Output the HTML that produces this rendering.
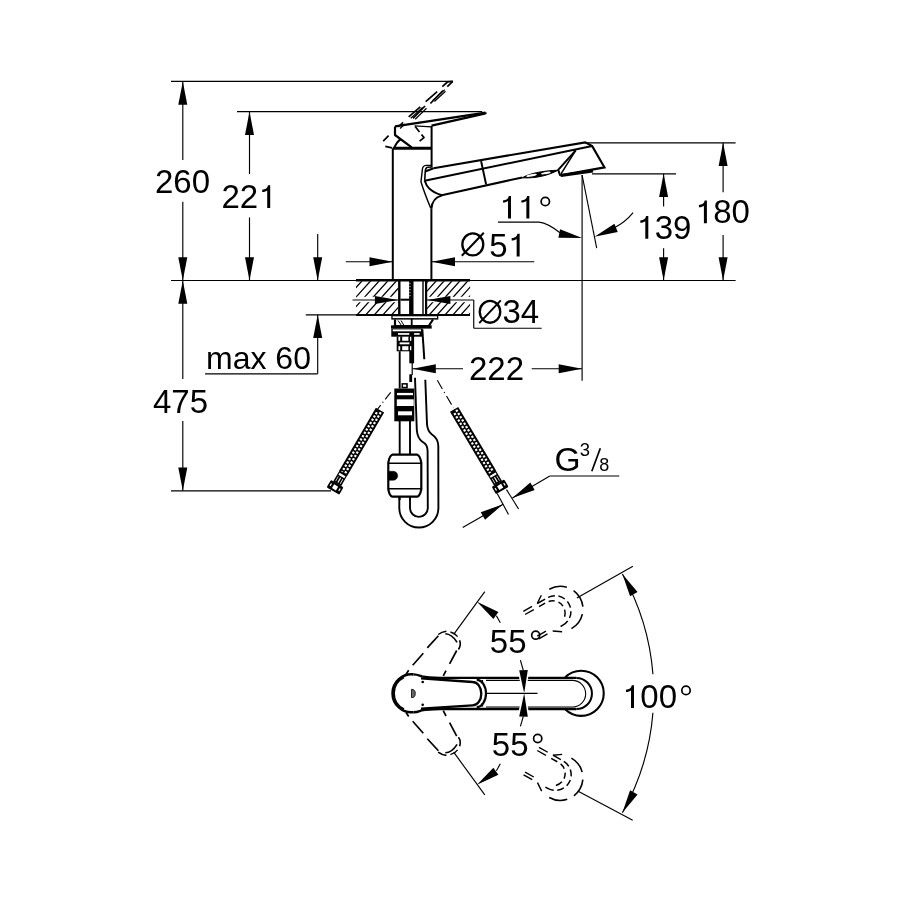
<!DOCTYPE html>
<html><head><meta charset="utf-8"><style>
html,body{margin:0;padding:0;background:#fff;}
svg{display:block;will-change:transform;}
text{font-family:"Liberation Sans",sans-serif;fill:#000;stroke:none;}
</style></head><body>
<svg width="900" height="900" viewBox="0 0 900 900" stroke="#000" stroke-linecap="butt" stroke-linejoin="round">
<rect x="0" y="0" width="900" height="900" fill="#fff" stroke="none"/>
<line x1="171" y1="81.4" x2="452.8" y2="81.4" stroke-width="1.15" />
<line x1="237" y1="111.6" x2="482.2" y2="111.6" stroke-width="1.15" />
<line x1="171" y1="280.5" x2="356" y2="280.5" stroke-width="1.15" />
<line x1="470" y1="280.5" x2="735.6" y2="280.5" stroke-width="1.15" />
<line x1="586.7" y1="142.8" x2="735.6" y2="142.8" stroke-width="1.15" />
<line x1="592" y1="173.8" x2="676" y2="173.8" stroke-width="1.15" />
<line x1="171" y1="490.8" x2="331" y2="490.8" stroke-width="1.15" />
<line x1="305.8" y1="314.8" x2="356" y2="314.8" stroke-width="1.15" />
<line x1="182.8" y1="81.4" x2="182.8" y2="160" stroke-width="1.15" />
<line x1="182.8" y1="201.7" x2="182.8" y2="280.5" stroke-width="1.15" />
<polygon points="182.8,81.4 178.3,104.7 187.3,104.7" fill="#000" stroke="none" />
<polygon points="182.8,280.5 187.3,257.2 178.3,257.2" fill="#000" stroke="none" />
<text x="155" y="193" font-size="33">2</text>
<text x="173.35" y="193" font-size="33">6</text>
<text x="191.71" y="193" font-size="33">0</text>
<line x1="182.8" y1="280.5" x2="182.8" y2="378.9" stroke-width="1.15" />
<line x1="182.8" y1="421.1" x2="182.8" y2="490.8" stroke-width="1.15" />
<polygon points="182.8,280.5 178.3,303.8 187.3,303.8" fill="#000" stroke="none" />
<polygon points="182.8,490.8 187.3,467.5 178.3,467.5" fill="#000" stroke="none" />
<text x="153" y="413.3" font-size="33">4</text>
<text x="171.35" y="413.3" font-size="33">7</text>
<text x="189.71" y="413.3" font-size="33">5</text>
<line x1="249.5" y1="111.6" x2="249.5" y2="174" stroke-width="1.15" />
<line x1="249.5" y1="217.5" x2="249.5" y2="280.5" stroke-width="1.15" />
<polygon points="249.5,111.6 245,134.9 254,134.9" fill="#000" stroke="none" />
<polygon points="249.5,280.5 254,257.2 245,257.2" fill="#000" stroke="none" />
<text x="221.5" y="208" font-size="33">2</text>
<text x="239.85" y="208" font-size="33">2</text>
<path d="M267.21,208 h3 v-22.7 h-2.2 c-0.6,2.9 -2.4,4.3 -5.8,4.5 v2.2 c2.4,0 4,-0.6 5,-1.5 z" fill="#000" stroke="none"/>
<line x1="317.7" y1="234" x2="317.7" y2="280.5" stroke-width="1.15" />
<polygon points="317.7,280.5 322.2,257.2 313.2,257.2" fill="#000" stroke="none" />
<line x1="317.7" y1="314.8" x2="317.7" y2="373.8" stroke-width="1.15" />
<line x1="317.7" y1="373.8" x2="205.1" y2="373.8" stroke-width="1.15" />
<polygon points="317.7,314.8 313.2,338.1 322.2,338.1" fill="#000" stroke="none" />
<text x="206" y="368.9" font-size="32">max 60</text>
<line x1="663.6" y1="173.8" x2="663.6" y2="206.4" stroke-width="1.15" />
<line x1="663.6" y1="248.2" x2="663.6" y2="280.5" stroke-width="1.15" />
<polygon points="663.6,173.8 659.1,197.1 668.1,197.1" fill="#000" stroke="none" />
<polygon points="663.6,280.5 668.1,257.2 659.1,257.2" fill="#000" stroke="none" />
<path d="M645.3,238.8 h3 v-22.7 h-2.2 c-0.6,2.9 -2.4,4.3 -5.8,4.5 v2.2 c2.4,0 4,-0.6 5,-1.5 z" fill="#000" stroke="none"/>
<text x="654.65" y="238.8" font-size="33">3</text>
<text x="673.01" y="238.8" font-size="33">9</text>
<line x1="723.1" y1="142.8" x2="723.1" y2="192.2" stroke-width="1.15" />
<line x1="723.1" y1="234.9" x2="723.1" y2="280.5" stroke-width="1.15" />
<polygon points="723.1,142.8 718.6,166.1 727.6,166.1" fill="#000" stroke="none" />
<polygon points="723.1,280.5 727.6,257.2 718.6,257.2" fill="#000" stroke="none" />
<path d="M703.9,223.3 h3 v-22.7 h-2.2 c-0.6,2.9 -2.4,4.3 -5.8,4.5 v2.2 c2.4,0 4,-0.6 5,-1.5 z" fill="#000" stroke="none"/>
<text x="713.25" y="223.3" font-size="33">8</text>
<text x="731.61" y="223.3" font-size="33">0</text>
<line x1="345.8" y1="261.7" x2="392.8" y2="261.7" stroke-width="1.15" />
<polygon points="392.8,261.7 369.5,257.2 369.5,266.2" fill="#000" stroke="none" />
<line x1="431.7" y1="261.7" x2="534.3" y2="261.7" stroke-width="1.15" />
<polygon points="431.7,261.7 455,266.2 455,257.2" fill="#000" stroke="none" />
<ellipse cx="472.8" cy="244.4" rx="10.45" ry="11.05" fill="none" stroke-width="2.3"/>
<line x1="461.8" y1="255.8" x2="483.8" y2="232.8" stroke-width="2.0" />
<text x="489.3" y="256.5" font-size="33">5</text>
<path d="M516.65,256.5 h3 v-22.7 h-2.2 c-0.6,2.9 -2.4,4.3 -5.8,4.5 v2.2 c2.4,0 4,-0.6 5,-1.5 z" fill="#000" stroke="none"/>
<ellipse cx="490" cy="311.85" rx="10.25" ry="10.9" fill="none" stroke-width="2.3"/>
<line x1="479.2" y1="323.1" x2="500.8" y2="300.4" stroke-width="2.0" />
<text x="502.4" y="323.4" font-size="33">3</text>
<text x="520.75" y="323.4" font-size="33">4</text>
<line x1="473.75" y1="300" x2="473.75" y2="328.2" stroke-width="1.15" />
<line x1="473.75" y1="328.2" x2="541.7" y2="328.2" stroke-width="1.15" />
<line x1="412.5" y1="368.7" x2="463" y2="368.7" stroke-width="1.15" />
<polygon points="412.5,368.7 435.8,373.2 435.8,364.2" fill="#000" stroke="none" />
<line x1="531.7" y1="368.7" x2="582" y2="368.7" stroke-width="1.15" />
<polygon points="582,368.7 558.7,364.2 558.7,373.2" fill="#000" stroke="none" />
<text x="469" y="380.3" font-size="33">2</text>
<text x="487.35" y="380.3" font-size="33">2</text>
<text x="505.71" y="380.3" font-size="33">2</text>
<line x1="582.1" y1="175" x2="582.1" y2="380.8" stroke-width="1.15" />
<line x1="582.1" y1="175" x2="596.7" y2="248.2" stroke-width="1.15" />
<path d="M498,222.1 L539,222.1 Q548,223 561,233.5" fill="none" stroke-width="1.15" />
<polygon points="582.1,238.1 560.12,229.2 558.39,237.83" fill="#000" stroke="none" />
<path d="M633.1,212.7 C628,219 622,224 614,228" fill="none" stroke-width="1.15" />
<polygon points="594.5,236.7 617.74,231.99 614.42,223.84" fill="#000" stroke="none" />
<path d="M508,218.6 h3 v-22.7 h-2.2 c-0.6,2.9 -2.4,4.3 -5.8,4.5 v2.2 c2.4,0 4,-0.6 5,-1.5 z" fill="#000" stroke="none"/>
<path d="M526.35,218.6 h3 v-22.7 h-2.2 c-0.6,2.9 -2.4,4.3 -5.8,4.5 v2.2 c2.4,0 4,-0.6 5,-1.5 z" fill="#000" stroke="none"/>
<circle cx="545.3" cy="201.5" r="4.2" fill="none" stroke-width="1.7"/>
<text x="554.5" y="471.3" font-size="33.5">G</text>
<text x="579.8" y="456.2" font-size="18.5">3</text>
<text x="599.2" y="470.9" font-size="18">8</text>
<line x1="591.8" y1="471.3" x2="600.3" y2="448.3" stroke-width="1.7" />
<line x1="550" y1="476" x2="619.3" y2="476" stroke-width="1.15" />
<line x1="549.8" y1="476" x2="512.4" y2="498.1" stroke-width="1.15" />
<polygon points="512.4,498.1 534.66,489.98 530.29,482.57" fill="#000" stroke="none" />
<line x1="462.7" y1="527.6" x2="503.1" y2="504.3" stroke-width="1.15" />
<polygon points="503.1,504.3 480.75,512.17 485.04,519.63" fill="#000" stroke="none" />
<line x1="497.2" y1="493.6" x2="508.5" y2="514.4" stroke-width="1.15" />
<line x1="506.5" y1="489.6" x2="518.6" y2="509" stroke-width="1.15" />
<line x1="392.8" y1="148.3" x2="392.8" y2="280.5" stroke-width="2.0" />
<line x1="431.6" y1="125.8" x2="431.6" y2="167.5" stroke-width="2.0" />
<line x1="431.4" y1="208.5" x2="431.4" y2="280.5" stroke-width="2.0" />
<line x1="392.8" y1="148.3" x2="431.6" y2="148.3" stroke-width="3.0" />
<path d="M395,126.4 L485.6,112.6" fill="none" stroke-width="2.2" />
<path d="M431.6,125.7 L485.6,113.4" fill="none" stroke-width="2.4" />
<path d="M485.6,112.6 L485.6,113.6" fill="none" stroke-width="2.8" />
<path d="M414.5,125.8 L431.6,126.9" fill="none" stroke-width="1.2" />
<path d="M395,126.4 L395,135 L411.7,147.3" fill="none" stroke-width="2.2" />
<path d="M394.3,148 Q396.5,142 400.6,139.4" fill="none" stroke-width="2.0" />
<line x1="408.7" y1="116.9" x2="420.3" y2="106.8" stroke-width="1.7" />
<line x1="425.7" y1="101.7" x2="437.2" y2="91.6" stroke-width="1.7" />
<line x1="442.3" y1="86.6" x2="447.5" y2="82" stroke-width="1.7" />
<line x1="413" y1="118.3" x2="425" y2="106" stroke-width="1.7" />
<line x1="430.4" y1="103.5" x2="443" y2="90.5" stroke-width="1.7" />
<line x1="447.3" y1="86.6" x2="452.8" y2="81.4" stroke-width="1.7" />
<line x1="447.5" y1="81.8" x2="452.8" y2="81.4" stroke-width="1.7" />
<line x1="410.8" y1="118.2" x2="422.6" y2="107.4" stroke-width="1.2" />
<line x1="432.6" y1="100.8" x2="444.8" y2="89.6" stroke-width="1.2" />
<line x1="415.2" y1="119.2" x2="426.5" y2="108.2" stroke-width="1.2" />
<line x1="434.4" y1="101.5" x2="445.5" y2="91.2" stroke-width="1.2" />
<line x1="398.2" y1="126.9" x2="403.1" y2="122.4" stroke-width="1.5" />
<line x1="400" y1="128.5" x2="405" y2="124" stroke-width="1.2" />
<path d="M388.6,135.7 L383.2,141.2 M385.3,146.4 L392,147.8" fill="none" stroke-width="1.7" />
<path d="M415.2,126.4 L419.5,132 M421.5,134.5 L424,137.6 L419.6,141.2" fill="none" stroke-width="1.7" />
<path d="M431.6,165.4 L426,165.4 Q422.6,165.6 422.3,170 L421,181.7 Q424,192 430.8,208.3" fill="none" stroke-width="1.4" />
<path d="M431.6,167 L427.5,167.2 Q425.5,167.6 425.3,171 L424.7,180.7" fill="none" stroke-width="1.6" />
<path d="M433.5,168.2 L585.2,142.4 L592.2,146.1 L604.5,167.4 L560.2,175.4" fill="none" stroke-width="2.1" stroke-linejoin="miter"/>
<path d="M425.8,171.2 L433.5,168.3" fill="none" stroke-width="2.0" />
<path d="M424.7,180.7 L592.2,146.1" fill="none" stroke-width="2.0" />
<path d="M424.7,180.7 C426.5,186 429,191 441.7,195.3 L522.3,177.4" fill="none" stroke-width="2.0" />
<path d="M431.4,208.6 C432,201 436,197 441.7,195.6" fill="none" stroke-width="2.0" />
<path d="M481.1,161.1 L486.1,184.4" fill="none" stroke-width="2.0" />
<path d="M522.3,177.8 C529,173.5 542,170.8 558,170.2 C549,175.2 536,178.6 522.3,177.8 Z" fill="#000" stroke-width="1.0" />
<ellipse cx="531.5" cy="175.4" rx="5.4" ry="1.15" transform="rotate(-10 531.5 175.4)" fill="#fff" stroke="none"/>
<ellipse cx="545.8" cy="173.0" rx="4.9" ry="1.1" transform="rotate(-10 545.8 173)" fill="#fff" stroke="none"/>
<path d="M560.2,175.6 L558.2,169.9 L575.7,150.3" fill="none" stroke-width="2.0" />
<path d="M575.7,150.3 L561.0,173.9" fill="none" stroke-width="1.5" />
<path d="M561,175.5 L593,171.1" fill="none" stroke-width="3.0" />
<clipPath id="hl"><rect x="356" y="281.2" width="42.2" height="32.8"/></clipPath>
<clipPath id="hr"><rect x="427.1" y="281.2" width="43" height="32.8"/></clipPath>
<g clip-path="url(#hl)">
<path d="M322.8,314.8 L353.8,280.5 M331.4,314.8 L362.4,280.5 M340,314.8 L371,280.5 M348.6,314.8 L379.6,280.5 M357.2,314.8 L388.2,280.5 M365.8,314.8 L396.8,280.5 M374.4,314.8 L405.4,280.5 M383,314.8 L414,280.5 M391.6,314.8 L422.6,280.5 M400.2,314.8 L431.2,280.5" fill="none" stroke-width="1.3" />
</g>
<g clip-path="url(#hr)">
<path d="M397.7,314.8 L428.7,280.5 M405.6,314.8 L436.6,280.5 M413.5,314.8 L444.5,280.5 M421.4,314.8 L452.4,280.5 M429.3,314.8 L460.3,280.5 M437.2,314.8 L468.2,280.5 M445.1,314.8 L476.1,280.5 M453,314.8 L484,280.5 M460.9,314.8 L491.9,280.5 M468.8,314.8 L499.8,280.5 M476.7,314.8 L507.7,280.5" fill="none" stroke-width="1.3" />
</g>
<rect x="356.5" y="296.8" width="41.7" height="5.4" fill="#fff" stroke="none"/>
<rect x="427.1" y="296.8" width="43" height="5.4" fill="#fff" stroke="none"/>
<line x1="356" y1="280.15" x2="470" y2="280.15" stroke-width="2.5" />
<line x1="356" y1="314.9" x2="470" y2="314.9" stroke-width="2.0" />
<line x1="352.5" y1="300" x2="398.2" y2="300" stroke-width="1.15" />
<polygon points="398.2,300 374.9,295.9 374.9,304.1" fill="#000" stroke="none" />
<line x1="427.1" y1="300" x2="473.75" y2="300" stroke-width="1.15" />
<polygon points="427.1,300 450.4,304.1 450.4,295.9" fill="#000" stroke="none" />
<line x1="399.3" y1="280" x2="399.3" y2="315" stroke-width="2.4" />
<line x1="400.5" y1="299.7" x2="409.2" y2="299.7" stroke-width="2.0" />
<rect x="409.1" y="280" width="4.4" height="35" fill="#000" stroke="none"/>
<line x1="410" y1="283" x2="410" y2="298" stroke-width="0.8" stroke="#fff" stroke-dasharray="1.2,1.8"/>
<rect x="422.3" y="280" width="1.4" height="35" fill="#000" stroke="none"/>
<line x1="426.1" y1="280" x2="426.1" y2="315" stroke-width="2.2" />
<rect x="391.3" y="314.8" width="47" height="4.8" fill="#000" stroke="none"/>
<rect x="392.6" y="316.3" width="44.4" height="1.8" fill="#fff" stroke="none"/>
<path d="M395,319.5 L395,326 L428.7,326 L433,319.5" fill="none" stroke-width="2.2" />
<line x1="411.7" y1="319" x2="411.7" y2="326" stroke-width="1.8" />
<path d="M398,320.5 L401.5,325.5 M401,320.5 L404,325.5" fill="none" stroke-width="1.0" />
<rect x="391" y="325.3" width="40.7" height="3.3" fill="#000" stroke="none"/>
<rect x="391.3" y="328.5" width="31.2" height="8.2" fill="#000" stroke="none"/>
<rect x="392.7" y="329.4" width="28.3" height="1.9" fill="#fff" stroke="none"/>
<rect x="398" y="333.1" width="21.6" height="1.7" fill="#fff" stroke="none"/>
<rect x="396.7" y="336.5" width="16" height="14.8" fill="#000" stroke="none"/>
<rect x="409.3" y="333" width="4.8" height="30.3" fill="#000" stroke="none"/>
<rect x="398.4" y="336.8" width="1.8" height="4" fill="#fff" stroke="none"/>
<rect x="402.2" y="336.8" width="6.2" height="4" fill="#fff" stroke="none"/>
<rect x="410" y="336.8" width="1.3" height="4" fill="#fff" stroke="none"/>
<rect x="398.4" y="346.2" width="1.8" height="4" fill="#fff" stroke="none"/>
<rect x="402.2" y="346.2" width="6.2" height="4" fill="#fff" stroke="none"/>
<rect x="410" y="346.2" width="1.3" height="4" fill="#fff" stroke="none"/>
<rect x="399.6" y="342.4" width="9.8" height="1.9" fill="#fff" stroke="none"/>
<line x1="399.7" y1="351.3" x2="399.7" y2="388.5" stroke-width="1.9" />
<line x1="412.2" y1="362.5" x2="412.2" y2="375" stroke-width="1.2" />
<rect x="409.3" y="374.3" width="2.8" height="7.7" fill="#000" stroke="none"/>
<rect x="401.5" y="383.1" width="6.3" height="5.2" fill="#000" stroke="none"/>
<rect x="403" y="384.6" width="3.2" height="2.2" fill="#fff" stroke="none"/>
<line x1="422.3" y1="329.3" x2="424.3" y2="359.3" stroke-width="2.0" />
<rect x="394.3" y="388.5" width="20" height="32.8" fill="#000" stroke="none"/>
<rect x="397" y="392.9" width="16" height="2.3" fill="#fff" stroke="none"/>
<rect x="396.8" y="399.3" width="16.9" height="6.7" fill="#fff" stroke="none"/>
<rect x="398" y="411.3" width="14" height="4" fill="#fff" stroke="none"/>
<line x1="399.7" y1="421" x2="399.7" y2="454.5" stroke-width="1.9" />
<line x1="410" y1="421" x2="410" y2="454.5" stroke-width="1.9" />
<path d="M392.3,454.7 L417.3,454.7 Q420,455.5 421.3,462.7 L421.3,489.3 Q420,496 417.3,496.7 L392.3,496.7 Q389.5,496 388.3,489.3 L388.3,462.7 Q389.5,455.5 392.3,454.7 Z" fill="none" stroke-width="2.2" />
<line x1="388.5" y1="463.3" x2="421.1" y2="463.3" stroke-width="1.6" />
<line x1="388.5" y1="488.7" x2="421.1" y2="488.7" stroke-width="1.6" />
<path d="M388.3,471.3 L393.2,471.3 A4.5,4.5 0 0 1 393.2,480.3 L388.3,480.3 Z" fill="#000" stroke-width="0.5" />
<line x1="399.7" y1="496.7" x2="399.7" y2="500" stroke-width="1.9" />
<line x1="410" y1="496.7" x2="410" y2="500" stroke-width="1.9" />
<path d="M415,377.7 L416.8,430 Q417.5,438 422,441.5 L424.5,443.2 Q427.5,445.5 427.6,451 L427.8,508 A8.9,8.9 0 0 1 410,508 L410,496.7" fill="none" stroke-width="1.9" />
<path d="M425.3,379.7 L427,424 Q427.4,431 432,434.5 Q438.2,438.5 438.3,446 L438.4,508 A19.55,19.55 0 0 1 399.3,508 L399.3,496.7" fill="none" stroke-width="1.9" />
<line x1="390.7" y1="392.3" x2="376.5" y2="410.5" stroke-width="1.1" stroke-dasharray="9,3,1.2,3"/>
<line x1="437.3" y1="380.3" x2="453.5" y2="408" stroke-width="1.1" stroke-dasharray="10,3.5,1.2,3.5"/>
<g transform="translate(380,410.2) rotate(120.22)">
<rect x="0" y="-4.8" width="72.91" height="9.6" fill="#000" stroke="none"/>
<rect x="1.4" y="-2.8" width="2.2" height="2.2" fill="#fff" stroke="none"/>
<rect x="3.3" y="0.6" width="2.2" height="2.2" fill="#fff" stroke="none"/>
<rect x="5.2" y="-2.8" width="2.2" height="2.2" fill="#fff" stroke="none"/>
<rect x="7.1" y="0.6" width="2.2" height="2.2" fill="#fff" stroke="none"/>
<rect x="9" y="-2.8" width="2.2" height="2.2" fill="#fff" stroke="none"/>
<rect x="10.9" y="0.6" width="2.2" height="2.2" fill="#fff" stroke="none"/>
<rect x="12.8" y="-2.8" width="2.2" height="2.2" fill="#fff" stroke="none"/>
<rect x="14.7" y="0.6" width="2.2" height="2.2" fill="#fff" stroke="none"/>
<rect x="16.6" y="-2.8" width="2.2" height="2.2" fill="#fff" stroke="none"/>
<rect x="18.5" y="0.6" width="2.2" height="2.2" fill="#fff" stroke="none"/>
<rect x="20.4" y="-2.8" width="2.2" height="2.2" fill="#fff" stroke="none"/>
<rect x="22.3" y="0.6" width="2.2" height="2.2" fill="#fff" stroke="none"/>
<rect x="24.2" y="-2.8" width="2.2" height="2.2" fill="#fff" stroke="none"/>
<rect x="26.1" y="0.6" width="2.2" height="2.2" fill="#fff" stroke="none"/>
<rect x="28" y="-2.8" width="2.2" height="2.2" fill="#fff" stroke="none"/>
<rect x="29.9" y="0.6" width="2.2" height="2.2" fill="#fff" stroke="none"/>
<rect x="31.8" y="-2.8" width="2.2" height="2.2" fill="#fff" stroke="none"/>
<rect x="33.7" y="0.6" width="2.2" height="2.2" fill="#fff" stroke="none"/>
<rect x="35.6" y="-2.8" width="2.2" height="2.2" fill="#fff" stroke="none"/>
<rect x="37.5" y="0.6" width="2.2" height="2.2" fill="#fff" stroke="none"/>
<rect x="39.4" y="-2.8" width="2.2" height="2.2" fill="#fff" stroke="none"/>
<rect x="41.3" y="0.6" width="2.2" height="2.2" fill="#fff" stroke="none"/>
<rect x="43.2" y="-2.8" width="2.2" height="2.2" fill="#fff" stroke="none"/>
<rect x="45.1" y="0.6" width="2.2" height="2.2" fill="#fff" stroke="none"/>
<rect x="47" y="-2.8" width="2.2" height="2.2" fill="#fff" stroke="none"/>
<rect x="48.9" y="0.6" width="2.2" height="2.2" fill="#fff" stroke="none"/>
<rect x="50.8" y="-2.8" width="2.2" height="2.2" fill="#fff" stroke="none"/>
<rect x="52.7" y="0.6" width="2.2" height="2.2" fill="#fff" stroke="none"/>
<rect x="54.6" y="-2.8" width="2.2" height="2.2" fill="#fff" stroke="none"/>
<rect x="56.5" y="0.6" width="2.2" height="2.2" fill="#fff" stroke="none"/>
<rect x="58.4" y="-2.8" width="2.2" height="2.2" fill="#fff" stroke="none"/>
<rect x="60.3" y="0.6" width="2.2" height="2.2" fill="#fff" stroke="none"/>
<rect x="62.2" y="-2.8" width="2.2" height="2.2" fill="#fff" stroke="none"/>
<rect x="64.1" y="0.6" width="2.2" height="2.2" fill="#fff" stroke="none"/>
<rect x="66" y="-2.8" width="2.2" height="2.2" fill="#fff" stroke="none"/>
<rect x="67.9" y="0.6" width="2.2" height="2.2" fill="#fff" stroke="none"/>
<rect x="69.8" y="-2.8" width="2.2" height="2.2" fill="#fff" stroke="none"/>
<rect x="71.7" y="0.6" width="2.2" height="2.2" fill="#fff" stroke="none"/>
<rect x="72.41" y="-4.6" width="12.8" height="9.2" fill="#000" stroke="none"/>
<rect x="74.51" y="-3.4" width="2.2" height="6.8" fill="#fff" stroke="none"/>
<rect x="78.11" y="-0.6" width="5.5" height="1.2" fill="#fff" stroke="none"/>
<rect x="78.11" y="-3" width="5.5" height="0.7" fill="#fff" stroke="none"/>
<rect x="78.11" y="2.3" width="5.5" height="0.7" fill="#fff" stroke="none"/>
<rect x="84.91" y="-7.3" width="8.6" height="14.6" rx="1.2" fill="#000" stroke="none"/>
<rect x="87.11" y="-2.3" width="4.4" height="4.6" fill="#fff" stroke="none"/>
<rect x="87.71" y="-5.6" width="2.8" height="1.2" fill="#fff" stroke="none"/>
<rect x="87.71" y="4.4" width="2.8" height="1.2" fill="#fff" stroke="none"/>
</g>
<g transform="translate(454.1,409.4) rotate(59.26)">
<rect x="0" y="-4.8" width="73.76" height="9.6" fill="#000" stroke="none"/>
<rect x="1.4" y="-2.8" width="2.2" height="2.2" fill="#fff" stroke="none"/>
<rect x="3.3" y="0.6" width="2.2" height="2.2" fill="#fff" stroke="none"/>
<rect x="5.2" y="-2.8" width="2.2" height="2.2" fill="#fff" stroke="none"/>
<rect x="7.1" y="0.6" width="2.2" height="2.2" fill="#fff" stroke="none"/>
<rect x="9" y="-2.8" width="2.2" height="2.2" fill="#fff" stroke="none"/>
<rect x="10.9" y="0.6" width="2.2" height="2.2" fill="#fff" stroke="none"/>
<rect x="12.8" y="-2.8" width="2.2" height="2.2" fill="#fff" stroke="none"/>
<rect x="14.7" y="0.6" width="2.2" height="2.2" fill="#fff" stroke="none"/>
<rect x="16.6" y="-2.8" width="2.2" height="2.2" fill="#fff" stroke="none"/>
<rect x="18.5" y="0.6" width="2.2" height="2.2" fill="#fff" stroke="none"/>
<rect x="20.4" y="-2.8" width="2.2" height="2.2" fill="#fff" stroke="none"/>
<rect x="22.3" y="0.6" width="2.2" height="2.2" fill="#fff" stroke="none"/>
<rect x="24.2" y="-2.8" width="2.2" height="2.2" fill="#fff" stroke="none"/>
<rect x="26.1" y="0.6" width="2.2" height="2.2" fill="#fff" stroke="none"/>
<rect x="28" y="-2.8" width="2.2" height="2.2" fill="#fff" stroke="none"/>
<rect x="29.9" y="0.6" width="2.2" height="2.2" fill="#fff" stroke="none"/>
<rect x="31.8" y="-2.8" width="2.2" height="2.2" fill="#fff" stroke="none"/>
<rect x="33.7" y="0.6" width="2.2" height="2.2" fill="#fff" stroke="none"/>
<rect x="35.6" y="-2.8" width="2.2" height="2.2" fill="#fff" stroke="none"/>
<rect x="37.5" y="0.6" width="2.2" height="2.2" fill="#fff" stroke="none"/>
<rect x="39.4" y="-2.8" width="2.2" height="2.2" fill="#fff" stroke="none"/>
<rect x="41.3" y="0.6" width="2.2" height="2.2" fill="#fff" stroke="none"/>
<rect x="43.2" y="-2.8" width="2.2" height="2.2" fill="#fff" stroke="none"/>
<rect x="45.1" y="0.6" width="2.2" height="2.2" fill="#fff" stroke="none"/>
<rect x="47" y="-2.8" width="2.2" height="2.2" fill="#fff" stroke="none"/>
<rect x="48.9" y="0.6" width="2.2" height="2.2" fill="#fff" stroke="none"/>
<rect x="50.8" y="-2.8" width="2.2" height="2.2" fill="#fff" stroke="none"/>
<rect x="52.7" y="0.6" width="2.2" height="2.2" fill="#fff" stroke="none"/>
<rect x="54.6" y="-2.8" width="2.2" height="2.2" fill="#fff" stroke="none"/>
<rect x="56.5" y="0.6" width="2.2" height="2.2" fill="#fff" stroke="none"/>
<rect x="58.4" y="-2.8" width="2.2" height="2.2" fill="#fff" stroke="none"/>
<rect x="60.3" y="0.6" width="2.2" height="2.2" fill="#fff" stroke="none"/>
<rect x="62.2" y="-2.8" width="2.2" height="2.2" fill="#fff" stroke="none"/>
<rect x="64.1" y="0.6" width="2.2" height="2.2" fill="#fff" stroke="none"/>
<rect x="66" y="-2.8" width="2.2" height="2.2" fill="#fff" stroke="none"/>
<rect x="67.9" y="0.6" width="2.2" height="2.2" fill="#fff" stroke="none"/>
<rect x="69.8" y="-2.8" width="2.2" height="2.2" fill="#fff" stroke="none"/>
<rect x="71.7" y="0.6" width="2.2" height="2.2" fill="#fff" stroke="none"/>
<rect x="73.26" y="-4.6" width="12.8" height="9.2" fill="#000" stroke="none"/>
<rect x="75.36" y="-3.4" width="2.2" height="6.8" fill="#fff" stroke="none"/>
<rect x="78.96" y="-0.6" width="5.5" height="1.2" fill="#fff" stroke="none"/>
<rect x="78.96" y="-3" width="5.5" height="0.7" fill="#fff" stroke="none"/>
<rect x="78.96" y="2.3" width="5.5" height="0.7" fill="#fff" stroke="none"/>
<rect x="85.76" y="-7.3" width="8.6" height="14.6" rx="1.2" fill="#000" stroke="none"/>
<rect x="87.96" y="-2.3" width="4.4" height="4.6" fill="#fff" stroke="none"/>
<rect x="88.56" y="-5.6" width="2.8" height="1.2" fill="#fff" stroke="none"/>
<rect x="88.56" y="4.4" width="2.8" height="1.2" fill="#fff" stroke="none"/>
</g>
<path d="M565.2,677.3 A22.6,22.6 0 1 1 565.2,709.3" fill="none" stroke-width="2.1" />
<path d="M413.5,674.4 A19,19 0 1 0 413.5,712.2" fill="none" stroke-width="2.6" />
<path d="M404,677.5 A17.5,17.5 0 0 0 404,709" fill="none" stroke-width="1.6" />
<path d="M413.5,674.4 C417,674.4 419,675.4 422,676.4 C426,677.4 432,677.8 440,677.9 L576.4,677.9" fill="none" stroke-width="2.4" />
<path d="M413.5,712.2 C417,712.2 419,711.2 422,710.2 C426,709.4 432,709.1 440,709.0 L576.4,709.0" fill="none" stroke-width="2.4" />
<path d="M421,678.3 L472.7,682 A8.6,11.65 0 0 1 472.7,705.3 L421,708.7" fill="none" stroke-width="2.3" />
<path d="M476.7,679.8 A9.3,13.6 0 0 1 476.7,707.0" fill="none" stroke-width="2.2" />
<line x1="482.3" y1="680" x2="482.3" y2="683.5" stroke-width="1.6" />
<line x1="482.3" y1="703" x2="482.3" y2="706.6" stroke-width="1.6" />
<path d="M576.4,677.9 A15.55,15.55 0 0 1 576.4,709.0" fill="none" stroke-width="2.0" />
<path d="M486,680.4 L572.4,680.4 A13.3,13.3 0 0 1 572.4,707.0 L486,707.0" fill="none" stroke-width="1.1" />
<circle cx="422.7" cy="682" r="1.3" stroke="none"/>
<circle cx="422.7" cy="704.7" r="1.3" stroke="none"/>
<path d="M411.5,689.3 A3.8,4.2 0 0 1 411.5,697.7 Z" fill="#666" stroke-width="0.8" />
<line x1="453.7" y1="634.4" x2="484.8" y2="591.7" stroke-width="1.15" />
<line x1="453.7" y1="752.2" x2="484.8" y2="794.9" stroke-width="1.15" />
<polygon points="477,601.8 493.38,618.92 498.41,611.95" fill="#000" stroke="none" />
<line x1="496.4" y1="615.8" x2="500.3" y2="622.8" stroke-width="1.15" />
<polygon points="524.2,693.3 527.79,669.88 519.19,670.14" fill="#fff" stroke="#fff" stroke-width="3.2"/>
<polygon points="524.2,693.3 527.79,669.88 519.19,670.14" fill="#000" stroke="none" />
<line x1="523.3" y1="670.3" x2="520.4" y2="660.2" stroke-width="1.15" />
<polygon points="477,784.8 498.41,774.65 493.38,767.68" fill="#000" stroke="none" />
<line x1="496.4" y1="770.8" x2="500.3" y2="763.8" stroke-width="1.15" />
<polygon points="524.2,693.3 519.19,716.46 527.79,716.72" fill="#fff" stroke="#fff" stroke-width="3.2"/>
<polygon points="524.2,693.3 519.19,716.46 527.79,716.72" fill="#000" stroke="none" />
<line x1="523.3" y1="716.3" x2="520.4" y2="726.4" stroke-width="1.15" />
<line x1="486.3" y1="693.4" x2="537.5" y2="693.4" stroke-width="1.2" />
<path d="M622.38,573.91 A243.2,243.2 0 0 1 652.95,674.22" fill="none" stroke-width="1.15" />
<path d="M652.92,712.8 A243.2,243.2 0 0 1 622.38,812.69" fill="none" stroke-width="1.15" />
<polygon points="622.38,573.91 630.07,596.32 637.56,592.1" fill="#000" stroke="none" />
<polygon points="622.38,812.69 637.56,794.5 630.07,790.28" fill="#000" stroke="none" />
<line x1="576.9" y1="598.1" x2="632.9" y2="566.2" stroke-width="1.15" />
<line x1="577.7" y1="791" x2="632.7" y2="820.3" stroke-width="1.15" />
<path d="M631,708 h3 v-22.7 h-2.2 c-0.6,2.9 -2.4,4.3 -5.8,4.5 v2.2 c2.4,0 4,-0.6 5,-1.5 z" fill="#000" stroke="none"/>
<text x="640.35" y="708" font-size="33">0</text>
<text x="658.71" y="708" font-size="33">0</text>
<circle cx="686" cy="690.4" r="4.2" fill="none" stroke-width="1.7"/>
<text x="489.8" y="652.6" font-size="33">5</text>
<text x="508.15" y="652.6" font-size="33">5</text>
<circle cx="535.7" cy="635.2" r="4.0" fill="none" stroke-width="1.7"/>
<text x="491.8" y="756.3" font-size="33">5</text>
<text x="510.15" y="756.3" font-size="33">5</text>
<circle cx="537.7" cy="738.5" r="4.1" fill="none" stroke-width="1.7"/>
<g transform="rotate(-29.4 410.5 693.3)">
<path d="M565,677.3 L576.7,677.3 A15.6,15.6 0 0 1 576.7,708.8 L565,708.8" fill="none" stroke-width="1.5" stroke-dasharray="9,3.5,7,3.5,7,3.5,7,3.5,7,3.5,9,30"/>
<path d="M565,680.9 L573.8,680.9 A12.4,12.4 0 0 1 573.8,705.7 L565,705.7" fill="none" stroke-width="1.5" stroke-dasharray="7,4,6,4,6,4,7,30"/>
<path d="M582.5,670.8 A22.6,22.6 0 0 1 582.5,716" fill="none" stroke-width="1.6" stroke-dasharray="18,7.5,19,7.5,19"/>
<path d="M549,677.3 L559,677.3 M549,680.9 L559,680.9 M549,705.7 L559,705.7 M549,708.8 L559,708.8" fill="none" stroke-width="1.4" />
<path d="M572.6,672.1 L565,677.3 M572.8,714.1 L565,708.8" fill="none" stroke-width="1.4" />
</g>
<g transform="rotate(29.4 410.5 693.3)">
<path d="M565,677.3 L576.7,677.3 A15.6,15.6 0 0 1 576.7,708.8 L565,708.8" fill="none" stroke-width="1.5" stroke-dasharray="9,3.5,7,3.5,7,3.5,7,3.5,7,3.5,9,30"/>
<path d="M565,680.9 L573.8,680.9 A12.4,12.4 0 0 1 573.8,705.7 L565,705.7" fill="none" stroke-width="1.5" stroke-dasharray="7,4,6,4,6,4,7,30"/>
<path d="M582.5,670.8 A22.6,22.6 0 0 1 582.5,716" fill="none" stroke-width="1.6" stroke-dasharray="18,7.5,19,7.5,19"/>
<path d="M549,677.3 L559,677.3 M549,680.9 L559,680.9 M549,705.7 L559,705.7 M549,708.8 L559,708.8" fill="none" stroke-width="1.4" />
<path d="M572.6,672.1 L565,677.3 M572.8,714.1 L565,708.8" fill="none" stroke-width="1.4" />
</g>
<line x1="406" y1="712.4" x2="408.7" y2="716.4" stroke-width="1.7" />
<line x1="412.7" y1="721.3" x2="423.3" y2="733.3" stroke-width="1.7" />
<line x1="427.3" y1="738.7" x2="438.4" y2="750.8" stroke-width="1.7" />
<line x1="443.3" y1="710.7" x2="446" y2="716" stroke-width="1.7" />
<line x1="449.6" y1="722.7" x2="456.7" y2="736.1" stroke-width="1.7" />
<path d="M438.2,752.1 Q441.5,754.8 446.4,755.4" fill="none" stroke-width="1.6" />
<path d="M445.3,752.8 Q452,752.5 457.1,744.3" fill="none" stroke-width="1.6" />
<path d="M458.4,737.2 Q461.4,741 459.6,746.3" fill="none" stroke-width="1.6" />
<path d="M450.4,754.6 Q455,753.5 457.6,749.9" fill="none" stroke-width="1.3" />
<line x1="406" y1="674.2" x2="408.7" y2="670.2" stroke-width="1.7" />
<line x1="412.7" y1="665.3" x2="423.3" y2="653.3" stroke-width="1.7" />
<line x1="427.3" y1="647.9" x2="438.4" y2="635.8" stroke-width="1.7" />
<line x1="443.3" y1="675.9" x2="446" y2="670.6" stroke-width="1.7" />
<line x1="449.6" y1="663.9" x2="456.7" y2="650.5" stroke-width="1.7" />
<path d="M438.2,634.5 Q441.5,631.8 446.4,631.2" fill="none" stroke-width="1.6" />
<path d="M445.3,633.8 Q452,634.1 457.1,642.3" fill="none" stroke-width="1.6" />
<path d="M458.4,649.4 Q461.4,645.6 459.6,640.3" fill="none" stroke-width="1.6" />
<path d="M450.4,632 Q455,633.1 457.6,636.7" fill="none" stroke-width="1.3" />
</svg></body></html>
